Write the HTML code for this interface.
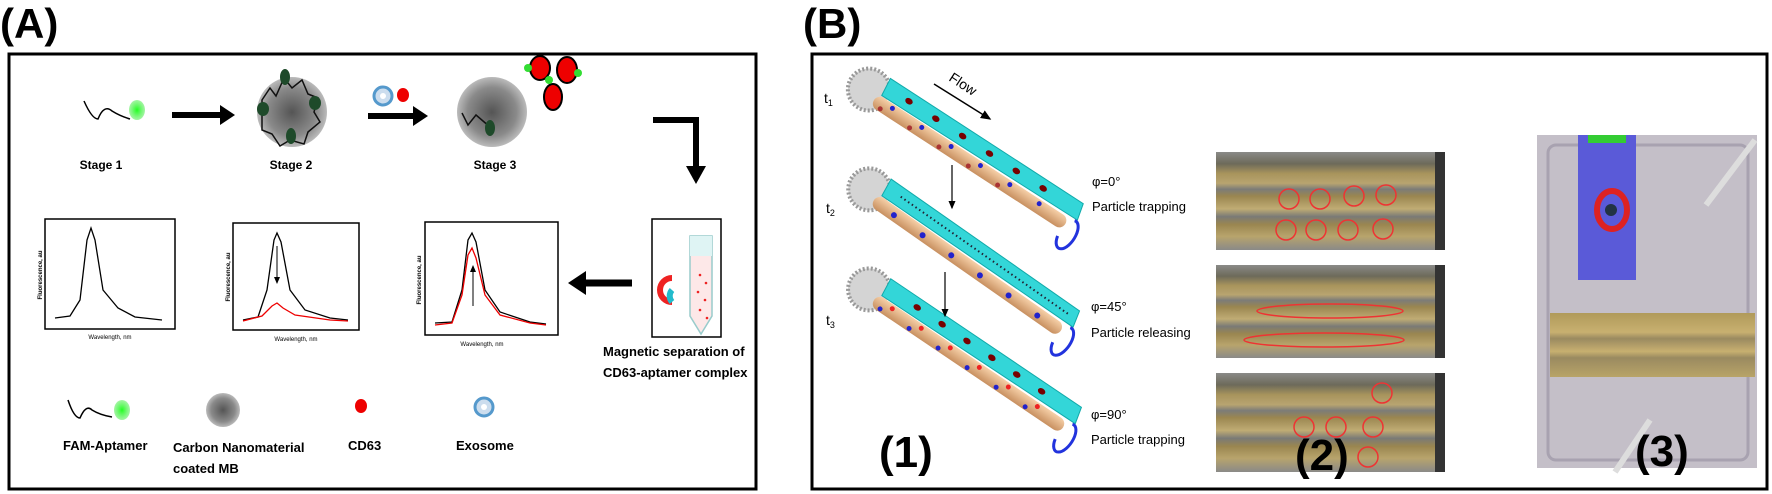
<!DOCTYPE html>
<html><head><meta charset="utf-8"><style>
html,body{margin:0;padding:0;background:#fff}
svg{display:block}
text{font-family:"Liberation Sans",sans-serif}
</style></head><body>
<svg width="1772" height="494" viewBox="0 0 1772 494" xmlns="http://www.w3.org/2000/svg">
<defs>
<radialGradient id="sph" cx="50%" cy="50%" r="50%"><stop offset="0" stop-color="#555"/><stop offset="0.7" stop-color="#8a8a8a"/><stop offset="1" stop-color="#bbb"/></radialGradient>
<radialGradient id="grn" cx="50%" cy="50%" r="50%"><stop offset="0" stop-color="#2f2"/><stop offset="1" stop-color="#6e6" stop-opacity="0.6"/></radialGradient>
<linearGradient id="brass" x1="0" y1="0" x2="0" y2="1"><stop offset="0" stop-color="#8a8a88"/><stop offset="0.12" stop-color="#6d6a5a"/><stop offset="0.22" stop-color="#a8945c"/><stop offset="0.32" stop-color="#b8a470"/><stop offset="0.38" stop-color="#7c7c78"/><stop offset="0.45" stop-color="#9a8650"/><stop offset="0.58" stop-color="#c0ac74"/><stop offset="0.66" stop-color="#7a7a76"/><stop offset="0.74" stop-color="#9a8650"/><stop offset="0.86" stop-color="#b8a46c"/><stop offset="1" stop-color="#8a8a88"/></linearGradient>
<linearGradient id="brass2" x1="0" y1="0" x2="0" y2="1"><stop offset="0" stop-color="#b09a5a"/><stop offset="0.3" stop-color="#c8b070"/><stop offset="0.4" stop-color="#9a8a60"/><stop offset="0.6" stop-color="#c8b070"/><stop offset="0.7" stop-color="#9a8a60"/><stop offset="1" stop-color="#b8a468"/></linearGradient>
<linearGradient id="rod" x1="0" y1="0" x2="0" y2="1"><stop offset="0" stop-color="#f6d0a8"/><stop offset="1" stop-color="#c89060"/></linearGradient>
<marker id="ah" markerWidth="8" markerHeight="8" refX="6" refY="4" orient="auto"><path d="M0,1 L7,4 L0,7z" fill="#000"/></marker>
<g id="tube">
 <circle cx="-10" cy="-6" r="21" fill="#d4d4d4" stroke="#999" stroke-dasharray="2,2" stroke-width="4"/>
 <rect x="0" y="-7" width="228" height="14" rx="7" fill="url(#rod)"/>
 <polygon points="2,-27 232,-27 236,-10 4,-8" fill="#33d6d8" stroke="#1aa" stroke-width="1"/>
 <path d="M234,-8 a8,16 0 1 1 -6,22" fill="none" stroke="#2233dd" stroke-width="3"/>
</g>
</defs>

<text x="0" y="38" font-size="42" font-weight="bold">(A)</text>
<rect x="9" y="54" width="747" height="435" fill="none" stroke="#000" stroke-width="3"/>

<path d="M84,101 q8,18 14,18 q6,-15 14,-8 q8,5 18,8" fill="none" stroke="#000" stroke-width="1.5"/>
<ellipse cx="137" cy="110" rx="8" ry="10" fill="url(#grn)"/>
<text x="101" y="169" font-size="12" font-weight="bold" text-anchor="middle">Stage 1</text>
<line x1="172" y1="115" x2="222" y2="115" stroke="#000" stroke-width="6"/>
<polygon points="220,105 235,115 220,125" fill="#000"/>

<circle cx="292" cy="112" r="35" fill="url(#sph)"/>
<path d="M262,100 l8,-12 l6,8 l8,-18 l8,10 l10,-8 l6,14 l10,4 l-4,14 l6,10 l-12,10 l-4,12 l-14,-4 l-10,6 l-8,-12 l-10,-4z" fill="none" stroke="#111" stroke-width="1.5"/>
<ellipse cx="285" cy="77" rx="5" ry="8" fill="#1e4a2a"/>
<ellipse cx="263" cy="109" rx="6" ry="7" fill="#1e4a2a"/>
<ellipse cx="315" cy="103" rx="6" ry="7" fill="#1e4a2a"/>
<ellipse cx="291" cy="136" rx="5" ry="8" fill="#1e4a2a"/>
<text x="291" y="169" font-size="12" font-weight="bold" text-anchor="middle">Stage 2</text>

<circle cx="383" cy="96" r="9" fill="#cde" stroke="#59c" stroke-width="3"/>
<circle cx="383" cy="96" r="3" fill="#fff"/>
<ellipse cx="403" cy="95" rx="6" ry="7" fill="#e00"/>
<line x1="368" y1="116" x2="415" y2="116" stroke="#000" stroke-width="6"/>
<polygon points="413,106 428,116 413,126" fill="#000"/>

<circle cx="492" cy="112" r="35" fill="url(#sph)"/>
<path d="M462,113 l6,12 l8,-10 l14,12" fill="none" stroke="#111" stroke-width="1.5"/>
<ellipse cx="490" cy="128" rx="5" ry="8" fill="#1e4a2a"/>
<text x="495" y="169" font-size="12" font-weight="bold" text-anchor="middle">Stage 3</text>
<ellipse cx="540" cy="68" rx="10" ry="12" fill="#e00" stroke="#000" stroke-width="2"/>
<ellipse cx="567" cy="70" rx="10" ry="13" fill="#e00" stroke="#000" stroke-width="2"/>
<ellipse cx="553" cy="97" rx="9" ry="13" fill="#e00" stroke="#000" stroke-width="2"/>
<circle cx="528" cy="68" r="4" fill="#3d3"/><circle cx="578" cy="73" r="4" fill="#3d3"/><circle cx="549" cy="80" r="4" fill="#3d3"/>

<polyline points="653,120 696,120 696,168" fill="none" stroke="#000" stroke-width="6"/>
<polygon points="686,166 706,166 696,184" fill="#000"/>

<rect x="652" y="219" width="69" height="118" fill="#fff" stroke="#000" stroke-width="1.5"/>
<path d="M690,236 h22 v80 l-11,18 l-11,-18z" fill="#fde8e8" stroke="#9cc" stroke-width="1.5"/>
<rect x="690" y="236" width="22" height="20" fill="#dff4f4"/>
<path d="M672,278 a9,9 0 0 0 0,24" fill="none" stroke="#e22" stroke-width="6"/>
<path d="M672,302 a9,9 0 0 1 0,-12" fill="none" stroke="#2bc" stroke-width="6"/>
<g fill="#e22"><circle cx="700" cy="275" r="1.3"/><circle cx="706" cy="283" r="1.3"/><circle cx="698" cy="292" r="1.3"/><circle cx="705" cy="300" r="1.3"/><circle cx="700" cy="310" r="1.3"/><circle cx="707" cy="318" r="1.3"/></g>
<text x="603" y="356" font-size="13" font-weight="bold">Magnetic separation of</text>
<text x="603" y="377" font-size="13" font-weight="bold">CD63-aptamer complex</text>

<line x1="632" y1="283" x2="584" y2="283" stroke="#000" stroke-width="7"/>
<polygon points="586,271 568,283 586,295" fill="#000"/>

<rect x="45" y="219" width="130" height="110" fill="#fff" stroke="#000" stroke-width="1.5"/>
<path d="M55,318 L70,316 L80,300 L87,240 L91,228 L95,240 L103,290 L118,308 L135,317 L162,320" fill="none" stroke="#000" stroke-width="1.3"/>
<text x="42" y="275" font-size="6" transform="rotate(-90 42 275)" text-anchor="middle" font-weight="bold">Fluorescence, au</text>
<text x="110" y="339" font-size="6" text-anchor="middle">Wavelength, nm</text>

<rect x="233" y="223" width="126" height="107" fill="#fff" stroke="#000" stroke-width="1.5"/>
<path d="M243,320 L258,317 L267,290 L274,240 L277,233 L281,242 L290,290 L305,310 L330,318 L348,320" fill="none" stroke="#000" stroke-width="1.3"/>
<path d="M243,321 L262,316 L272,306 L277,303 L283,308 L295,315 L330,320 L348,321" fill="none" stroke="#e00" stroke-width="1.3"/>
<line x1="277" y1="246" x2="277" y2="283" stroke="#000" stroke-width="1" marker-end="url(#ah)"/>
<text x="230" y="277" font-size="6" transform="rotate(-90 230 277)" text-anchor="middle" font-weight="bold">Fluorescence, au</text>
<text x="296" y="341" font-size="6" text-anchor="middle">Wavelength, nm</text>

<rect x="425" y="222" width="133" height="113" fill="#fff" stroke="#000" stroke-width="1.5"/>
<path d="M435,323 L452,322 L462,290 L468,240 L472,233 L476,242 L485,290 L500,312 L530,322 L546,324" fill="none" stroke="#000" stroke-width="1.3"/>
<path d="M435,325 L452,323 L462,295 L468,255 L472,248 L476,258 L485,295 L500,315 L530,323 L546,325" fill="none" stroke="#e00" stroke-width="1.3"/>
<line x1="473" y1="306" x2="473" y2="266" stroke="#000" stroke-width="1" marker-end="url(#ah)"/>
<text x="421" y="280" font-size="6" transform="rotate(-90 421 280)" text-anchor="middle" font-weight="bold">Fluorescence, au</text>
<text x="482" y="346" font-size="6" text-anchor="middle">Wavelength, nm</text>

<path d="M68,400 q6,18 12,18 q6,-14 12,-8 q8,5 20,7" fill="none" stroke="#000" stroke-width="1.5"/>
<ellipse cx="122" cy="410" rx="8" ry="10" fill="url(#grn)"/>
<circle cx="223" cy="410" r="17" fill="url(#sph)"/>
<ellipse cx="361" cy="406" rx="6" ry="7" fill="#e00"/>
<circle cx="484" cy="407" r="9" fill="#cde" stroke="#59c" stroke-width="3"/>
<circle cx="484" cy="407" r="3" fill="#fff"/>
<text x="63" y="450" font-size="13" font-weight="bold">FAM-Aptamer</text>
<text x="173" y="452" font-size="13" font-weight="bold">Carbon Nanomaterial</text>
<text x="173" y="473" font-size="13" font-weight="bold">coated MB</text>
<text x="348" y="450" font-size="13" font-weight="bold">CD63</text>
<text x="456" y="450" font-size="13" font-weight="bold">Exosome</text>

<text x="803" y="38" font-size="42" font-weight="bold">(B)</text>
<rect x="812" y="54" width="955" height="435" fill="none" stroke="#000" stroke-width="3"/>

<text x="824" y="103" font-size="14">t<tspan font-size="9" dy="3">1</tspan></text>
<text x="826" y="213" font-size="14">t<tspan font-size="9" dy="3">2</tspan></text>
<text x="826" y="325" font-size="14">t<tspan font-size="9" dy="3">3</tspan></text>

<g transform="translate(874,100) rotate(33)"><use href="#tube"/>
 <g fill="#700"><ellipse cx="30" cy="-18" rx="4" ry="3"/><ellipse cx="62" cy="-18" rx="4" ry="3"/><ellipse cx="94" cy="-18" rx="4" ry="3"/><ellipse cx="126" cy="-18" rx="4" ry="3"/><ellipse cx="158" cy="-18" rx="4" ry="3"/><ellipse cx="190" cy="-18" rx="4" ry="3"/></g>
 <g fill="#22c"><circle cx="20" cy="-3" r="2.5"/><circle cx="55" cy="-3" r="2.5"/><circle cx="90" cy="-3" r="2.5"/><circle cx="125" cy="-3" r="2.5"/><circle cx="160" cy="-3" r="2.5"/><circle cx="195" cy="-3" r="2.5"/></g>
 <g fill="#a33"><circle cx="10" cy="4" r="2.5"/><circle cx="45" cy="4" r="2.5"/><circle cx="80" cy="4" r="2.5"/><circle cx="115" cy="4" r="2.5"/><circle cx="150" cy="4" r="2.5"/></g>
</g>
<text x="948" y="80" font-size="14" transform="rotate(33 948 80)">Flow</text>
<line x1="934" y1="84" x2="990" y2="119" stroke="#000" stroke-width="1.5" marker-end="url(#ah)"/>

<g transform="translate(874,200) rotate(35)"><use href="#tube"/>
 <line x1="20" y1="-18" x2="225" y2="-18" stroke="#223" stroke-width="2" stroke-dasharray="1.5,3"/>
 <g fill="#22c"><circle cx="25" cy="1" r="3"/><circle cx="60" cy="1" r="3"/><circle cx="95" cy="1" r="3"/><circle cx="130" cy="1" r="3"/><circle cx="165" cy="1" r="3"/><circle cx="200" cy="1" r="3"/></g>
</g>

<g transform="translate(874,300) rotate(34)"><use href="#tube"/>
 <g fill="#700"><ellipse cx="40" cy="-18" rx="4" ry="3"/><ellipse cx="70" cy="-18" rx="4" ry="3"/><ellipse cx="100" cy="-18" rx="4" ry="3"/><ellipse cx="130" cy="-18" rx="4" ry="3"/><ellipse cx="160" cy="-18" rx="4" ry="3"/><ellipse cx="190" cy="-18" rx="4" ry="3"/></g>
 <g fill="#e22"><circle cx="20" cy="-3" r="2.5"/><circle cx="55" cy="-3" r="2.5"/><circle cx="90" cy="-3" r="2.5"/><circle cx="125" cy="-3" r="2.5"/><circle cx="160" cy="-3" r="2.5"/><circle cx="195" cy="-3" r="2.5"/></g>
 <g fill="#22c"><circle cx="10" cy="4" r="2.5"/><circle cx="45" cy="4" r="2.5"/><circle cx="80" cy="4" r="2.5"/><circle cx="115" cy="4" r="2.5"/><circle cx="150" cy="4" r="2.5"/><circle cx="185" cy="4" r="2.5"/></g>
</g>

<line x1="952" y1="165" x2="952" y2="208" stroke="#000" stroke-width="1.2" marker-end="url(#ah)"/>
<line x1="945" y1="272" x2="945" y2="316" stroke="#000" stroke-width="1.2" marker-end="url(#ah)"/>

<text x="1092" y="186" font-size="13">φ=0°</text>
<text x="1092" y="211" font-size="13">Particle trapping</text>
<text x="1091" y="311" font-size="13">φ=45°</text>
<text x="1091" y="337" font-size="13">Particle releasing</text>
<text x="1091" y="419" font-size="13">φ=90°</text>
<text x="1091" y="444" font-size="13">Particle trapping</text>

<rect x="1216" y="152" width="229" height="98" fill="url(#brass)"/>
<rect x="1435" y="152" width="10" height="98" fill="#333"/>
<g fill="none" stroke="#e33" stroke-width="1.5"><circle cx="1289" cy="199" r="10"/><circle cx="1320" cy="199" r="10"/><circle cx="1354" cy="196" r="10"/><circle cx="1386" cy="195" r="10"/><circle cx="1286" cy="230" r="10"/><circle cx="1316" cy="230" r="10"/><circle cx="1348" cy="230" r="10"/><circle cx="1383" cy="229" r="10"/></g>
<rect x="1216" y="265" width="229" height="93" fill="url(#brass)"/>
<rect x="1435" y="265" width="10" height="93" fill="#333"/>
<g fill="none" stroke="#e33" stroke-width="1.5"><ellipse cx="1330" cy="311" rx="73" ry="7"/><ellipse cx="1324" cy="340" rx="80" ry="7"/></g>
<rect x="1216" y="373" width="229" height="99" fill="url(#brass)"/>
<rect x="1435" y="373" width="10" height="99" fill="#333"/>
<g fill="none" stroke="#e33" stroke-width="1.5"><circle cx="1382" cy="393" r="10"/><circle cx="1304" cy="427" r="10"/><circle cx="1336" cy="427" r="10"/><circle cx="1373" cy="427" r="10"/><circle cx="1368" cy="457" r="10"/></g>

<rect x="1537" y="135" width="220" height="333" fill="#c4bfc8"/>
<rect x="1548" y="145" width="200" height="315" fill="none" stroke="#a8a2b0" stroke-width="3" rx="8"/>
<rect x="1578" y="135" width="58" height="145" fill="#5a5ad8"/>
<rect x="1588" y="135" width="38" height="8" fill="#3c3"/>
<ellipse cx="1612" cy="210" rx="15" ry="19" fill="none" stroke="#d22" stroke-width="6"/>
<circle cx="1611" cy="210" r="6" fill="#234"/>
<line x1="1706" y1="205" x2="1755" y2="140" stroke="#ddd" stroke-width="6"/>
<rect x="1550" y="313" width="205" height="64" fill="url(#brass2)"/>
<line x1="1650" y1="420" x2="1615" y2="472" stroke="#ddd" stroke-width="6"/>

<text x="879" y="467" font-size="44" font-weight="bold">(1)</text>
<text x="1295" y="470" font-size="44" font-weight="bold">(2)</text>
<text x="1635" y="466" font-size="44" font-weight="bold">(3)</text>
</svg>
</body></html>
